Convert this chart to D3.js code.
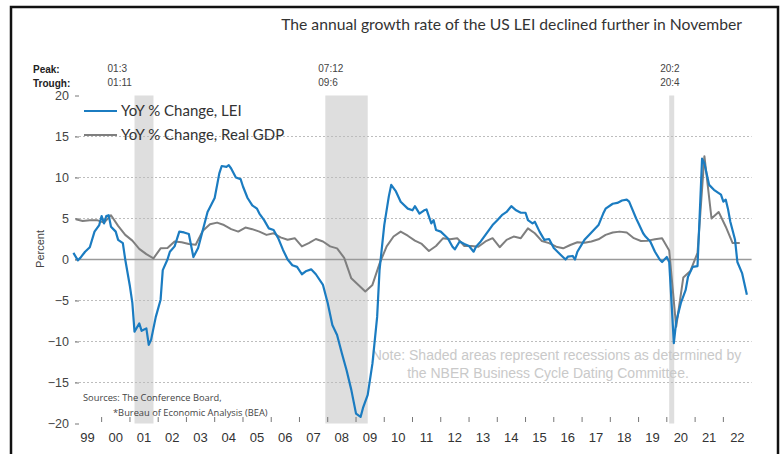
<!DOCTYPE html>
<html><head><meta charset="utf-8">
<script src="https://cdn.jsdelivr.net/npm/d3@7"></script>
<style>body{margin:0;background:#fff;}svg{display:block;}</style>
</head><body>
<svg id="c" width="784" height="454"></svg>
<script>
// ---- data ----
const leiDates = ["1999-01","1999-03","1999-04","1999-06","1999-08","1999-10","1999-12","2000-01","2000-02","2000-03","2000-04","2000-05","2000-07","2000-08","2000-10","2000-11","2001-01","2001-02","2001-03","2001-05","2001-06","2001-08","2001-09","2001-10","2001-12","2002-02","2002-03","2002-05","2002-06","2002-08","2002-10","2002-12","2003-02","2003-04","2003-06","2003-08","2003-10","2004-01","2004-03","2004-04","2004-06","2004-07","2004-08","2004-10","2004-12","2005-01","2005-03","2005-05","2005-07","2005-08","2005-10","2005-12","2006-02","2006-04","2006-06","2006-08","2006-10","2006-12","2007-02","2007-04","2007-06","2007-08","2007-11","2008-01","2008-03","2008-05","2008-07","2008-09","2008-11","2009-01","2009-03","2009-04","2009-06","2009-08","2009-10","2009-11","2010-01","2010-03","2010-04","2010-06","2010-08","2010-11","2011-01","2011-02","2011-04","2011-06","2011-07","2011-09","2011-10","2011-11","2012-01","2012-04","2012-06","2012-07","2012-09","2012-11","2013-01","2013-03","2013-04","2013-06","2013-09","2013-11","2014-01","2014-03","2014-05","2014-07","2014-09","2014-11","2015-01","2015-02","2015-04","2015-05","2015-07","2015-09","2015-11","2016-01","2016-04","2016-06","2016-07","2016-09","2016-10","2016-11","2017-02","2017-04","2017-06","2017-08","2017-10","2017-11","2018-02","2018-04","2018-06","2018-08","2018-09","2018-12","2019-01","2019-03","2019-04","2019-06","2019-08","2019-10","2019-11","2019-12","2020-01","2020-02","2020-04","2020-05","2020-07","2020-09","2020-10","2020-12","2021-02","2021-04","2021-05","2021-07","2021-09","2021-12","2022-01","2022-02","2022-03","2022-04","2022-06","2022-07","2022-09","2022-11"];
const leiValues = [0.8,-0.1,0.2,0.95,1.5,3.4,4.2,5.3,4.4,5.3,5.4,4.0,3.4,2.4,2.0,0.0,-3.3,-5.3,-8.8,-7.8,-8.7,-8.4,-10.4,-9.8,-7.0,-4.9,-1.3,0.0,0.95,1.6,3.4,3.3,3.1,0.3,1.4,3.6,5.8,7.5,10.5,11.4,11.3,11.5,11.1,10.0,9.8,8.9,7.5,6.6,6.2,5.6,4.8,3.8,3.6,2.6,1.2,0.0,-0.7,-0.9,-1.8,-1.4,-1.2,-1.8,-3.1,-5.3,-8.0,-9.2,-11.4,-13.5,-15.9,-18.8,-19.2,-18.1,-16.5,-12.7,-7.0,-1.3,4.2,7.7,9.1,8.3,7.05,6.2,6.0,6.5,5.6,6.0,6.1,4.4,4.8,3.6,3.4,2.6,1.56,1.24,2.2,1.9,1.65,0.95,1.56,2.2,3.4,4.2,4.8,5.4,5.8,6.5,6.0,5.7,5.7,4.8,4.4,4.6,3.4,2.4,2.5,1.4,0.55,0.0,0.34,0.43,0.0,0.95,2.4,3.0,3.6,4.2,5.6,6.2,6.8,6.9,7.2,7.3,7.05,5.0,4.4,3.2,2.8,2.2,0.95,0.0,-0.3,0.0,0.3,-0.3,-10.2,-7.6,-5.3,-3.7,-2.1,-0.9,-0.8,12.3,11.7,9.1,8.5,7.9,7.05,7.3,6.2,4.6,2.4,-0.3,-1.7,-4.3];

const gdpQuarters = ["1999Q1","1999Q2","1999Q3","1999Q4","2000Q1","2000Q2","2000Q3","2000Q4","2001Q1","2001Q2","2001Q3","2001Q4","2002Q1","2002Q2","2002Q3","2002Q4","2003Q1","2003Q2","2003Q3","2003Q4","2004Q1","2004Q2","2004Q3","2004Q4","2005Q1","2005Q2","2005Q3","2005Q4","2006Q1","2006Q2","2006Q3","2006Q4","2007Q1","2007Q2","2007Q3","2007Q4","2008Q1","2008Q2","2008Q3","2008Q4","2009Q1","2009Q2","2009Q3","2009Q4","2010Q1","2010Q2","2010Q3","2010Q4","2011Q1","2011Q2","2011Q3","2011Q4","2012Q1","2012Q2","2012Q3","2012Q4","2013Q1","2013Q2","2013Q3","2013Q4","2014Q1","2014Q2","2014Q3","2014Q4","2015Q1","2015Q2","2015Q3","2015Q4","2016Q1","2016Q2","2016Q3","2016Q4","2017Q1","2017Q2","2017Q3","2017Q4","2018Q1","2018Q2","2018Q3","2018Q4","2019Q1","2019Q2","2019Q3","2019Q4","2020Q1","2020Q2","2020Q3","2020Q4","2021Q1","2021Q2","2021Q3","2021Q4","2022Q1","2022Q2","2022Q3"];
const gdpValues = [4.9,4.7,4.8,4.8,4.5,5.4,4.1,3.0,2.3,1.3,0.65,0.14,1.36,1.4,2.2,2.1,1.9,1.8,3.5,4.3,4.5,4.2,3.7,3.4,3.9,3.7,3.4,3.0,3.2,2.7,2.4,2.6,1.6,2.0,2.5,2.2,1.6,1.36,0.2,-2.3,-3.1,-3.9,-3.1,-0.5,1.6,2.8,3.4,2.9,2.3,1.9,1.04,1.65,2.6,2.46,2.6,1.65,1.65,1.56,2.2,2.6,1.5,2.4,2.8,2.6,3.8,3.2,2.25,2.0,1.56,1.36,1.77,2.1,2.05,2.2,2.46,3.0,3.3,3.4,3.3,2.6,2.25,2.3,2.46,2.6,1.1,-8.2,-2.2,-1.4,0.8,12.6,5.0,5.8,4.0,2.0,2.0];

const recessionPeaks = ["2001-03","2007-12","2020-02"];
const recessionTroughs = ["2001-11","2009-06","2020-04"];
const peakLabels = ["01:3","07:12","20:2"];
const troughLabels = ["01:11","09:6","20:4"];

const yTicks = [-20,-15,-10,-5,0,5,10,15,20];
const yearLabels = ["99","00","01","02","03","04","05","06","07","08","09","10","11","12","13","14","15","16","17","18","19","20","21","22"];
const firstYear = 1999;

const seriesNames = ["YoY % Change, LEI","YoY % Change, Real GDP"];
const titleText = "The annual growth rate of the US LEI declined further in November";
const noteLines = ["Note: Shaded areas represent recessions as determined by","the NBER Business Cycle Dating Committee."];
const sourceLines = ["Sources: The Conference Board,","*Bureau of Economic Analysis (BEA)"];

// ---- drawing ----
const svg = d3.select("#c");
const parseM = d3.timeParse("%Y-%m");
const qDate = q => new Date(+q.slice(0,4), (+q.slice(5)-1)*3 + 1, 1);

const x = d3.scaleTime().domain([new Date(1999,0,1), new Date(2023,0,1)]).range([73.4, 751.6]);
const y = d3.scaleLinear().domain([-20,20]).range([423.5, 95.5]);

const BLUE = "#1b7cc1", GREY = "#7f7f7f";
const labelShift = [-27, -7, -9];

// frame
svg.append("rect").attr("x",11).attr("y",7).attr("width",767).attr("height",470)
  .attr("fill","none").attr("stroke","#111").attr("stroke-width",2.5);

// title
svg.append("text").attr("x",742).attr("y",30).attr("text-anchor","end")
  .style("font-family","Lato, 'Open Sans', sans-serif").style("font-size","15.7px").attr("fill","#333")
  .text(titleText);

// recession shading
recessionPeaks.forEach((p,i)=>{
  const x0 = x(parseM(p)), x1 = x(parseM(recessionTroughs[i]));
  svg.append("rect").attr("x",x0).attr("y",y(20)).attr("width",Math.max(x1-x0,5)).attr("height",y(-20)-y(20))
    .attr("fill","#dedede");
  const g = svg.append("g").style("font-family","Arial, 'Liberation Sans', sans-serif").style("font-size","10px").attr("fill","#444");
  const lx = x0 + labelShift[i];
  g.append("text").attr("x",lx).attr("y",72).text(peakLabels[i]);
  g.append("text").attr("x",lx).attr("y",86).text(troughLabels[i]);
});
svg.append("text").attr("x",33).attr("y",73).style("font-family","Arial, 'Liberation Sans', sans-serif")
  .style("font-size","10px").style("font-weight","bold").attr("fill","#222").text("Peak:");
svg.append("text").attr("x",33).attr("y",87).style("font-family","Arial, 'Liberation Sans', sans-serif")
  .style("font-size","10px").style("font-weight","bold").attr("fill","#222").text("Trough:");

// gridlines
yTicks.forEach(t=>{
  if (t===20 || t===-20) return;
  svg.append("line").attr("x1",75).attr("x2",751.6).attr("y1",y(t)).attr("y2",y(t))
    .attr("stroke", t===0 ? "#9a9a9a" : "#bdbdbd").attr("stroke-width", t===0 ? 1.3 : 1)
    .attr("stroke-dasharray", t===0 ? null : "2,2");
});
// y axis labels + tick dashes
const yAxis = d3.axisLeft(y).tickValues(yTicks).tickSize(4).tickPadding(6).tickFormat(d3.format("d"));
const ya = svg.append("g").attr("transform","translate(79,0)").call(yAxis);
ya.select(".domain").remove();
ya.selectAll("line").attr("stroke","#777");
ya.selectAll("text").style("font-family","Arial, 'Liberation Sans', sans-serif").style("font-size","12.5px").attr("fill","#444");

svg.append("text").attr("transform","translate(44,249) rotate(-90)").attr("text-anchor","middle")
  .style("font-family","Arial, 'Liberation Sans', sans-serif").style("font-size","11px").attr("fill","#444").text("Percent");

// x axis ticks + labels
const xa = svg.append("g").attr("transform","translate(0,417)");
const tickYears = d3.range(firstYear+1, firstYear+yearLabels.length).map(yy=>new Date(yy,0,1));
xa.selectAll("line").data(tickYears).join("line")
  .attr("x1",d=>x(d)).attr("x2",d=>x(d)).attr("y1",0).attr("y2",5).attr("stroke","#777").attr("stroke-width",1);
xa.selectAll("text").data(yearLabels).join("text")
  .attr("x",(d,i)=>x(new Date(firstYear+i,6,1))).attr("y",25).attr("text-anchor","middle")
  .style("font-family","Arial, 'Liberation Sans', sans-serif").style("font-size","13px").attr("fill","#333")
  .text(d=>d);

// note
const note = svg.append("g").style("font-family","Arial, 'Liberation Sans', sans-serif").style("font-size","14px").attr("fill","#c9c9c9");
note.append("text").attr("x",556.5).attr("y",360).attr("text-anchor","middle").text(noteLines[0]);
note.append("text").attr("x",548).attr("y",378).attr("text-anchor","middle").text(noteLines[1]);

// sources
const src = svg.append("g").style("font-family","'Open Sans', Arial, sans-serif").style("font-size","9.3px").attr("fill","#444");
src.append("text").attr("x",83).attr("y",401).text(sourceLines[0]);
src.append("text").attr("x",113).attr("y",416).text(sourceLines[1]);

// lines
const line = d3.line().x(d=>x(d[0])).y(d=>y(d[1]));
const gdpData = gdpQuarters.map((q,i)=>[qDate(q), gdpValues[i]]);
const leiData = leiDates.map((d,i)=>[parseM(d), leiValues[i]]);
svg.append("path").datum(gdpData).attr("d",line).attr("fill","none").attr("stroke",GREY).attr("stroke-width",2).attr("stroke-linejoin","round");
svg.append("path").datum(leiData).attr("d",line).attr("fill","none").attr("stroke",BLUE).attr("stroke-width",2.2).attr("stroke-linejoin","round");

// legend
const lg = svg.append("g").style("font-family","Lato, 'Open Sans', sans-serif").style("font-size","15px").attr("fill","#333");
[[BLUE,111],[GREY,135]].forEach((c,i)=>{
  lg.append("line").attr("x1",84).attr("x2",117).attr("y1",c[1]).attr("y2",c[1]).attr("stroke",c[0]).attr("stroke-width",2.2);
  lg.append("text").attr("x",121).attr("y",c[1]+5).text(seriesNames[i]);
});
</script>
</body></html>
